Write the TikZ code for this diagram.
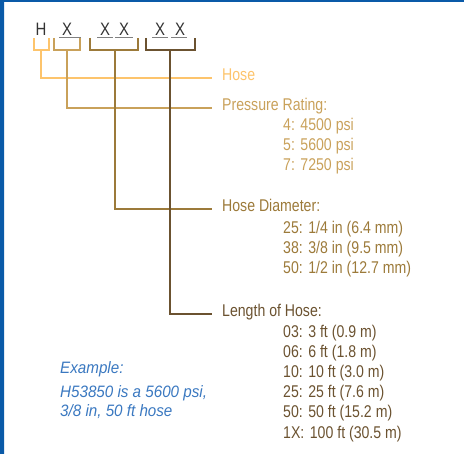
\documentclass[tikz,border=0pt]{standalone}
\usepackage{fontspec}
\setmainfont[FakeStretch=0.83]{Liberation Sans}
\newfontfamily\exfont[FakeStretch=0.92]{Liberation Sans}
\usetikzlibrary{positioning}
\definecolor{bordblue}{HTML}{0A5AA8}
\definecolor{exblue}{HTML}{3A78C0}
\definecolor{codegray}{HTML}{333333}
\definecolor{hoseA}{HTML}{FDC46C}
\definecolor{presA}{HTML}{C9A15A}
\definecolor{diamA}{HTML}{9C7A3A}
\definecolor{lenA}{HTML}{6B5230}
\newcommand\gapx{\hspace{5.5pt}}
\tikzset{
 lbl/.style={anchor=mid west,inner sep=0pt},
 code/.style={inner sep=0pt,text=codegray,font=\fontsize{18}{20}\selectfont},
 brk/.style={line width=1.4pt,line join=miter},
 uline/.style={gray,line width=0.8pt}
}
\begin{document}
\begin{tikzpicture}[x=1pt,y=-1pt,font=\fontsize{17}{20}\selectfont,line cap=butt]
 \def \optx{283}\def \txtx{222}
 \useasboundingbox (0,0) rectangle (464,454);
 \fill[bordblue] (0,0) rectangle (464,2) (0,0) rectangle (4,454);
 % code letters
 \node[code] (h) at (41,29) {H};
 \node[code] (x1) at (67,29) {X};
 \node[code] (x2) at (105,29) {X};
 \node[code] (x3) at (124,29) {X};
 \node[code] (x4) at (160,29) {X};
 \node[code] (x5) at (180,29) {X};
 \draw[uline] (59,37.5)--(81,37.5) (97,37.5)--(113,37.5) (115,37.5)--(133,37.5)
  (152,37.5)--(168,37.5) (171,37.5)--(187,37.5);
 % brackets
 \draw[brk,hoseA] (34,38) |- (49,50) -- (49,38);
 \draw[brk,presA] (54,38) |- (80,50) -- (80,38);
 \draw[brk,diamA] (90,38) |- (138,50) -- (138,38);
 \draw[brk,lenA] (146,38) |- (195,50) -- (195,38);
 \coordinate (bh) at (41,50);
 \coordinate (bp) at (67,50);
 \coordinate (bd) at (115,50);
 \coordinate (bl) at (170,50);
 % headings and options
 \node[lbl,text=hoseA] (hose) at (\txtx,78) {Hose};
 \node[lbl,text=presA] (pres) at (\txtx,108) {Pressure Rating:};
 \node[lbl,text=presA] (p4) at (\optx,128) {4:\gapx 4500 psi};
 \node[lbl,text=presA] (p5) at (\optx,148) {5:\gapx 5600 psi};
 \node[lbl,text=presA] (p7) at (\optx,168) {7:\gapx 7250 psi};
 \node[lbl,text=diamA] (diam) at (\txtx,209) {Hose Diameter:};
 \node[lbl,text=diamA] (d25) at (\optx,231) {25:\gapx 1/4 in (6.4 mm)};
 \node[lbl,text=diamA] (d38) at (\optx,251) {38:\gapx 3/8 in (9.5 mm)};
 \node[lbl,text=diamA] (d50) at (\optx,271) {50:\gapx 1/2 in (12.7 mm)};
 \node[lbl,text=lenA] (len) at (\txtx,314) {Length of Hose:};
 \node[lbl,text=lenA] (l03) at (\optx,335) {03:\gapx 3 ft (0.9 m)};
 \node[lbl,text=lenA] (l06) at (\optx,355) {06:\gapx 6 ft (1.8 m)};
 \node[lbl,text=lenA] (l10) at (\optx,375) {10:\gapx 10 ft (3.0 m)};
 \node[lbl,text=lenA] (l25) at (\optx,395) {25:\gapx 25 ft (7.6 m)};
 \node[lbl,text=lenA] (l50) at (\optx,415) {50:\gapx 50 ft (15.2 m)};
 \node[lbl,text=lenA] (l1x) at (\optx,436) {1X:\gapx 100 ft (30.5 m)};
 % connectors
 \draw[brk,hoseA] (bh) |- ([xshift=-10pt]hose.mid west);
 \draw[brk,presA] (bp) |- ([xshift=-10pt]pres.mid west);
 \draw[brk,diamA] (bd) |- ([xshift=-10pt]diam.mid west);
 \draw[brk,lenA] (bl) |- ([xshift=-10pt]len.mid west);
 % example
 \node[lbl,text=exblue,font=\exfont\itshape\fontsize{16.5}{19}\selectfont] (ex1) at (60,371) {Example:};
 \node[lbl,text=exblue,font=\exfont\itshape\fontsize{16.5}{19}\selectfont] (ex2) at (60,395) {H53850 is a 5600 psi,};
 \node[lbl,text=exblue,font=\exfont\itshape\fontsize{16.5}{19}\selectfont] (ex3) at (60,414) {3/8 in, 50 ft hose};
\end{tikzpicture}
\end{document}
